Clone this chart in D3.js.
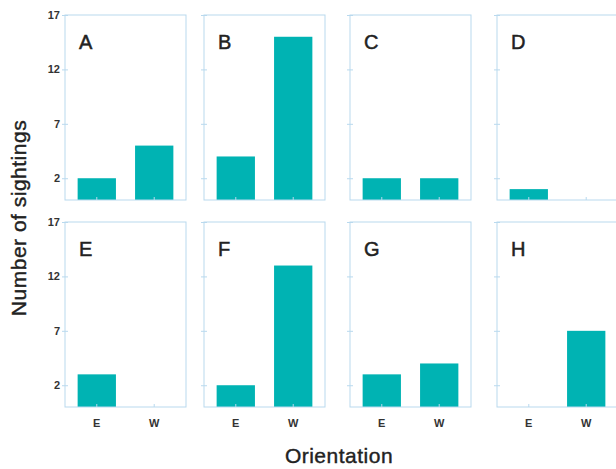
<!DOCTYPE html>
<html lang="en">
<head>
<meta charset="utf-8">
<title>Sightings by orientation</title>
<script src="https://d3js.org/d3.v7.min.js"></script>
<style>
  body { margin: 0; background: #fff; }
  svg { display: block; font-family: "Liberation Sans", Arial, sans-serif; }
  .frame { fill: none; stroke: #b9d9ee; stroke-width: 1px; }
  .bar { fill: #00b3b3; }
  .axis path { display: none; }
  .axis line { stroke: #b9d9ee; }
  .axis text { fill: #333; font-size: 11px; font-weight: bold; }
  .panel-label { fill: #222; font-size: 20px; stroke: #222; stroke-width: 0.5px; }
  .title { fill: #222; font-size: 21px; stroke: #222; stroke-width: 0.4px; letter-spacing: 0.5px; }
</style>
</head>
<body>
<svg width="616" height="469"></svg>
<script>
// data
const panels = ["A", "B", "C", "D", "E", "F", "G", "H"];
const orientations = ["E", "W"];
const eastCounts = [2, 4, 2, 1, 3, 2, 3, 0];
const westCounts = [5, 15, 2, 0, 0, 13, 4, 7];
const yTicks = [2, 7, 12, 17];

const svg = d3.select("svg");

// layout of the 2x4 grid (scanned figure, columns not quite even)
const colLeft = [65, 204, 350, 497];
const rowTop = [15, 222];
const pw = 121, ph = 185;

const y = d3.scaleLinear().domain([0, 17]).range([ph, 0]);
const x = d3.scaleBand().domain(orientations).range([0, pw])
            .paddingInner(0.333).paddingOuter(0.22);

panels.forEach((name, i) => {
  const col = i % 4, row = Math.floor(i / 4);
  const g = svg.append("g")
               .attr("transform", `translate(${colLeft[col]},${rowTop[row]})`);

  const vals = [eastCounts[i], westCounts[i]];

  g.selectAll("rect.bar")
   .data(orientations.map((o, k) => ({o: o, v: vals[k]})).filter(d => d.v > 0))
   .enter()
   .append("rect")
   .attr("class", "bar")
   .attr("x", d => x(d.o))
   .attr("y", d => y(d.v))
   .attr("width", x.bandwidth())
   .attr("height", d => y(0) - y(d.v));

  g.append("rect")
   .attr("class", "frame")
   .attr("width", pw)
   .attr("height", ph);

  //left ticks, labelled only in first column
  const ya = g.append("g").attr("class", "axis")
              .call(d3.axisLeft(y).tickValues(yTicks).tickSize(3).tickPadding(2)
                      .tickFormat(col === 0 ? d3.format("d") : ""));
  ya.selectAll("line").attr("x2", -3).attr("x1", 3);

  //bottom ticks, labelled only on lower row
  const xa = g.append("g").attr("class", "axis")
              .attr("transform", `translate(0,${ph})`)
              .call(d3.axisBottom(x).tickSize(3).tickPadding(9)
                      .tickFormat(row === 1 ? (d => d) : ""));
  xa.selectAll("line").attr("y1", -3).attr("y2", 0);

  g.append("text")
   .attr("class", "panel-label")
   .attr("x", 14)
   .attr("y", 34)
   .text(name);
});

svg.append("text")
   .attr("class", "title")
   .attr("transform", "translate(26,218) rotate(-90)")
   .attr("text-anchor", "middle")
   .text("Number of sightings");

svg.append("text")
   .attr("class", "title")
   .attr("x", 339)
   .attr("y", 463)
   .attr("text-anchor", "middle")
   .text("Orientation");
</script>
</body>
</html>
